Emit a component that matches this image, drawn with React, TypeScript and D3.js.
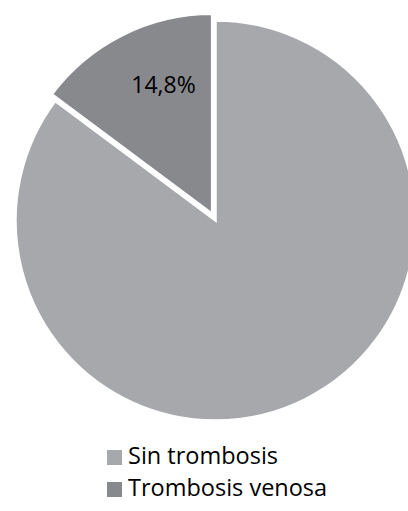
import React from "react";
import * as d3 from "d3";

const categories = ["Sin trombosis", "Trombosis venosa"];
const values = [85.2, 14.8];
const colors = ["#a7a8ac", "#88898d"];
const labels = ["", "14,8%"];
const exploded = [false, true];

const W = 408;
const H = 511;
const cx = 215.5;
const cy = 220.5;
const R = 200;
const explode = 7.5;

export default function App() {
  const pie = d3.pie<number>().sort(null).value((d) => d).startAngle(0).endAngle(2 * Math.PI);
  const arcs = pie(values);
  const arc = d3.arc<d3.PieArcDatum<number>>().innerRadius(0).outerRadius(R);
  const font = "'Open Sans', sans-serif";
  return (
    <svg
      width={W}
      height={H}
      style={{ position: "absolute", left: 0, top: 0, background: "#fff" }}
    >
      <g transform={`translate(${cx},${cy})`}>
        {arcs.map((a, i) => {
          const mid = (a.startAngle + a.endAngle) / 2;
          const off = exploded[i] ? explode : 0;
          const dx = Math.sin(mid) * off;
          const dy = -Math.cos(mid) * off;
          return (
            <g key={i} transform={`translate(${dx},${dy})`}>
              <path d={arc(a) || ""} fill={colors[i]} stroke="#fff" strokeWidth={2.5} strokeLinejoin="miter" />
            </g>
          );
        })}
        {arcs.map((a, i) => {
          if (!labels[i]) return null;
          const mid = (a.startAngle + a.endAngle) / 2;
          const off = exploded[i] ? explode : 0;
          const ang = mid + (6 * Math.PI) / 180;
          const rr = R * 0.69;
          const x = Math.sin(ang) * rr + Math.sin(mid) * off;
          const y = -Math.cos(ang) * rr - Math.cos(mid) * off;
          return (
            <text key={i} x={x} y={y + 8} textAnchor="middle" fontFamily={font} fontSize={23} fill="#000">
              {labels[i]}
            </text>
          );
        })}
      </g>
      <g>
        {categories.map((c, i) => (
          <g key={c} transform={`translate(107,${464 + i * 32})`}>
            <rect x={0} y={-14} width={15} height={15} fill={colors[i]} />
            <text x={21} y={0} fontFamily={font} fontSize={23.5} fill="#000">
              {c}
            </text>
          </g>
        ))}
      </g>
    </svg>
  );
}
